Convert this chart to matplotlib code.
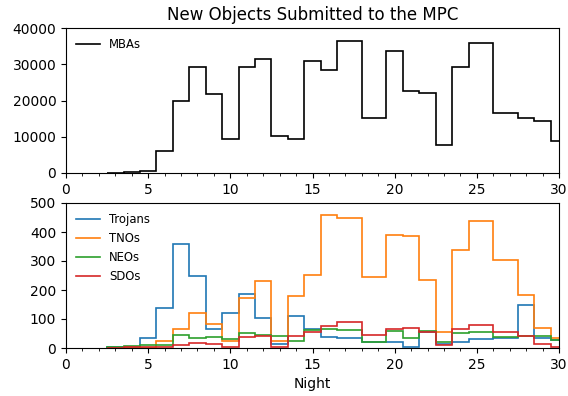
import numpy as np
import matplotlib
matplotlib.use("Agg")
import matplotlib.pyplot as plt
from matplotlib.ticker import MultipleLocator

nights = np.array([3, 4, 5, 6, 7, 8, 9, 10, 11, 12, 13, 14, 15, 16, 17,
                   19, 20, 21, 22, 23, 24, 25, 27, 28, 29, 30])

mbas = [0, 300, 650, 6000, 20000, 29200, 21700, 9300, 29300, 31500, 10100, 9300,
        30800, 28400, 36500, 15300, 33700, 22600, 22000, 7600, 29300, 36000,
        16500, 15100, 14400, 8700]
trojans = [3, 5, 33, 139, 358, 247, 65, 120, 187, 105, 15, 112, 65, 38, 33,
           21, 19, 4, 55, 15, 22, 30, 36, 148, 33, 27]
tnos = [0, 0, 0, 23, 67, 121, 82, 25, 172, 232, 25, 179, 253, 460, 448,
        246, 388, 386, 236, 55, 338, 439, 303, 182, 70, 33]
neos = [5, 8, 10, 10, 44, 35, 39, 31, 51, 46, 43, 23, 62, 64, 62,
        21, 59, 33, 60, 20, 51, 55, 37, 43, 43, 28]
sdos = [1, 2, 3, 5, 10, 17, 14, 2, 37, 43, 5, 43, 54, 75, 89,
        45, 64, 70, 55, 10, 64, 79, 56, 40, 14, 3]

# bin edges halfway between observed nights
edges = np.concatenate([[nights[0] - 0.5], (nights[:-1] + nights[1:]) / 2, [nights[-1] + 0.5]])

fig = plt.figure(figsize=(5.68, 3.96), dpi=100)
ax1 = fig.add_axes([66/568, 1-173/396, (559-66)/568, (173-28)/396])
ax2 = fig.add_axes([66/568, 1-348/396, (559-66)/568, (348-203)/396])

lw = 1.2
ax1.stairs(mbas, edges, color='black', lw=lw, label='MBAs')
ax1.set_xlim(0, 30)
ax1.set_ylim(0, 40000)
ax1.set_yticks(np.arange(0, 40001, 10000))
ax1.xaxis.set_minor_locator(MultipleLocator(1))
ax1.legend(loc='upper left', frameon=False, fontsize='small')
ax1.set_title('New Objects Submitted to the MPC')

for vals, c, lab in [(trojans, 'C0', 'Trojans'), (tnos, 'C1', 'TNOs'),
                     (neos, 'C2', 'NEOs'), (sdos, 'C3', 'SDOs')]:
    ax2.stairs(vals, edges, color=c, lw=lw, label=lab)
ax2.set_xlim(0, 30)
ax2.set_ylim(0, 500)
ax2.set_yticks(np.arange(0, 501, 100))
ax2.xaxis.set_minor_locator(MultipleLocator(1))
ax2.legend(loc='upper left', frameon=False, fontsize='small')
ax2.set_xlabel('Night')

fig.savefig('out.png', dpi=100)
